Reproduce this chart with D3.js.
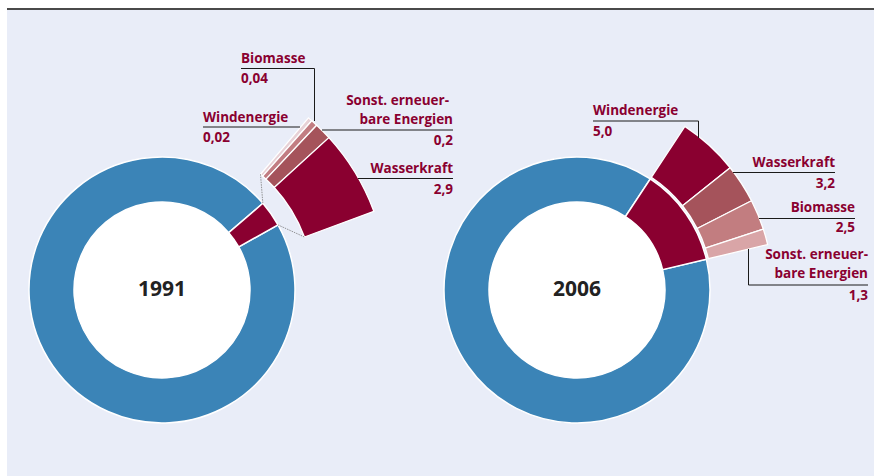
<!DOCTYPE html>
<html><head><meta charset="utf-8">
<script src="https://cdn.jsdelivr.net/npm/d3@7"></script>
<style>
html,body{margin:0;padding:0;background:#fff;}
svg{display:block;}
text{font-family:"Open Sans","DejaVu Sans",sans-serif;}
</style></head>
<body><svg id="chart" width="874" height="476"></svg>
<script>
// ---- data ----
const years = ["1991", "2006"];
const categories1991 = ["Windenergie", "Biomasse", "Sonst. erneuerbare Energien", "Wasserkraft"];
const values1991 = [0.02, 0.04, 0.2, 2.9];
const categories2006 = ["Windenergie", "Wasserkraft", "Biomasse", "Sonst. erneuerbare Energien"];
const values2006 = [5.0, 3.2, 2.5, 1.3];
const total = 100;

// ---- styles ----
const colors1991 = ["#e7d1d6", "#c27d82", "#a5535b", "#8a0030"];
const colors2006 = ["#8a0030", "#a5535b", "#c27d80", "#d9a5a7"];
const blue = "#3b84b7", red = "#8a0030", labelColor = "#8a0030";

const svg = d3.select("#chart");
svg.append("rect").attr("x", 7).attr("y", 10).attr("width", 867).attr("height", 466).attr("fill", "#e9edf8");
svg.append("line").attr("x1", 7).attr("x2", 874).attr("y1", 9).attr("y2", 9).attr("stroke", "#4a4a4a").attr("stroke-width", 2);

const rad = d => d * Math.PI / 180;
const shareAngle = d3.scaleLinear().domain([0, total]).range([0, 360]);
const midAngle = 55;
const donutR = [88, 133];
const centers = [{x: 162, y: 290}, {x: 577, y: 290}];
const sets = [
  {cats: categories1991, vals: values1991, cols: colors1991},
  {cats: categories2006, vals: values2006, cols: colors2006}
];
const fmt = v => (v < 0.1 ? v.toFixed(2) : v.toFixed(1)).replace(".", ",");

// scale for magnified 1991 wedge
const magnify = d3.scalePow().exponent(0.6).domain([0, 2.9]).range([0, 22]);

const donutArc = d3.arc().innerRadius(donutR[0]).outerRadius(donutR[1]);
const pt = (c, deg, r) => [c.x + r * Math.sin(rad(deg)), c.y - r * Math.cos(rad(deg))];

sets.forEach((s, i) => {
  const c = centers[i];
  const g = svg.append("g").attr("transform", `translate(${c.x},${c.y})`);
  const share = d3.sum(s.vals);
  const a0 = midAngle - shareAngle(share) / 2, a1 = midAngle + shareAngle(share) / 2;
  g.append("path").attr("d", donutArc({startAngle: rad(a1), endAngle: rad(a0 + 360)}))
    .attr("fill", blue).attr("stroke", "#fff").attr("stroke-width", 1.5);
  g.append("path").attr("d", donutArc({startAngle: rad(a0), endAngle: rad(a1)}))
    .attr("fill", red).attr("stroke", "#fff").attr("stroke-width", 1.5);
  g.append("circle").attr("r", donutR[0]).attr("fill", "#fff");
  g.append("text").text(years[i]).attr("text-anchor", "middle").attr("y", 6)
    .attr("font-size", 21).attr("font-weight", 700).attr("fill", "#222");

  // exploded segments
  let angs, rIn, rOut;
  if (i === 0) {
    angs = s.vals.map(v => magnify(v));
    rIn = 152; rOut = 226;
  } else {
    angs = s.vals.map(v => shareAngle(v));
    rIn = 135; rOut = 196;
  }
  const tot = d3.sum(angs);
  let start = midAngle - tot / 2;
  const eArc = d3.arc().innerRadius(rIn).outerRadius(rOut);
  const firstStart = start;
  angs.forEach((a, k) => {
    g.append("path").attr("d", eArc({startAngle: rad(start), endAngle: rad(start + a)}))
      .attr("fill", s.cols[k]).attr("stroke", "#fff").attr("stroke-width", 1.3);
    start += a;
  });
  if (i === 0) {
    const p1 = pt({x:0,y:0}, firstStart, rIn), p2 = pt({x:0,y:0}, a0, donutR[1]);
    const p3 = pt({x:0,y:0}, a1, donutR[1]), p4 = pt({x:0,y:0}, start, rIn);
    [[p1, p2], [p3, p4]].forEach(([p, q]) => {
      g.append("line").attr("x1", p[0]).attr("y1", p[1]).attr("x2", q[0]).attr("y2", q[1])
        .attr("stroke", "#7a7a7a").attr("stroke-width", 0.8).attr("stroke-dasharray", "1.5,1");
    });
  }
});

// ---- labels ----
const labelLayout = [
  // 1991
  [
    {name: ["Windenergie"], anchor: "start", x: 203, y: 122, vy: 142, line: [[203, 127], [300, 127]]},
    {name: ["Biomasse"], anchor: "start", x: 241, y: 63, vy: 83, line: [[241, 68.5], [314.5, 68.5], [314.5, 121]]},
    {name: ["Sonst. erneuer-", "bare Energien"], anchor: "end", x: 453, y: 105, vy: 145, line: [[322, 130], [453, 130]], dx: [-4, 0]},
    {name: ["Wasserkraft"], anchor: "end", x: 453, y: 173, vy: 194, line: [[358, 178.5], [453, 178.5]]}
  ],
  // 2006
  [
    {name: ["Windenergie"], anchor: "start", x: 593, y: 115, vy: 136, line: [[593, 121], [698.5, 121], [698.5, 138]]},
    {name: ["Wasserkraft"], anchor: "end", x: 835, y: 167, vy: 188, line: [[733, 172.5], [835, 172.5]]},
    {name: ["Biomasse"], anchor: "end", x: 855, y: 212, vy: 232, line: [[759, 218.5], [855, 218.5]]},
    {name: ["Sonst. erneuer-", "bare Energien"], anchor: "end", x: 868, y: 259, vy: 300, line: [[748.5, 249], [748.5, 285], [868, 285]], dx: [0, 0]}
  ]
];

sets.forEach((s, i) => {
  labelLayout[i].forEach((L, k) => {
    svg.append("path").attr("d", d3.line()(L.line)).attr("fill", "none")
      .attr("stroke", "#1a1a1a").attr("stroke-width", 1);
    const t = svg.append("text").attr("text-anchor", L.anchor).attr("fill", labelColor)
      .attr("font-size", 13.5).attr("font-weight", 700);
    L.name.forEach((n, j) => {
      t.append("tspan").attr("x", L.x + (L.dx ? L.dx[j] : 0)).attr("y", L.y + j * 19).text(n);
    });
    svg.append("text").attr("text-anchor", L.anchor).attr("fill", labelColor)
      .attr("font-size", 13.5).attr("font-weight", 700)
      .attr("x", L.x).attr("y", L.vy).text(fmt(s.vals[k]));
  });
});
</script></body></html>
